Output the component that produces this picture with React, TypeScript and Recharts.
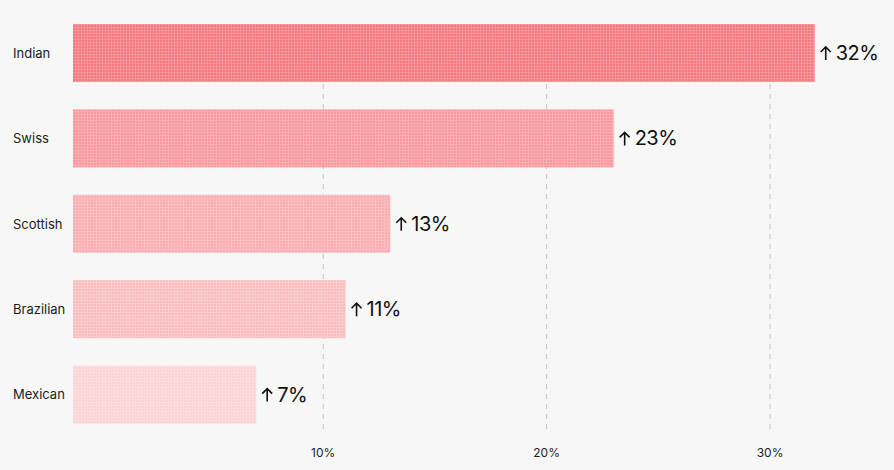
import React from "react";
import { BarChart, Bar, XAxis, YAxis, CartesianGrid, LabelList, Cell } from "recharts";

const cuisines = ["Indian", "Swiss", "Scottish", "Brazilian", "Mexican"];
const growth = [32, 23, 13, 11, 7];
const barColors = ["#f5787f", "#f8979c", "#faadb1", "#fbbcbf", "#fcd3d5"];
const xTicks = [10, 20, 30];

// bars start slightly left of zero, like the original design
const AXIS_MIN = -1.2;
const AXIS_MAX = 35.1;

const data = cuisines.map((name, i) => ({ name, value: growth[i] }));

const FONT = "Inter, 'Liberation Sans', Arial, sans-serif";

function DottedBar(props: any) {
  const { x, y, width, height, fill } = props;
  if (width <= 0) return null;
  return (
    <g>
      <rect x={x} y={y} width={width} height={height} fill={fill} />
      <rect x={x} y={y} width={width} height={height} fill="url(#dotGrid)" />
    </g>
  );
}

function CategoryTick(props: any) {
  const { y, payload } = props;
  return (
    <text x={13} y={y} dominantBaseline="central" fontSize={13} fill="#1c1c1c" fontFamily={FONT}>
      {payload.value}
    </text>
  );
}

function GrowthLabel(props: any) {
  const { x, y, width, height, value } = props;
  const ax = x + width + 11;
  const cy = y + height / 2;
  return (
    <g>
      <path
        d={`M${ax} ${cy + 7} V${cy - 6} M${ax - 5} ${cy - 1} L${ax} ${cy - 6} L${ax + 5} ${cy - 1}`}
        stroke="#111"
        strokeWidth={1.6}
        fill="none"
      />
      <text x={ax + 10} y={cy} dominantBaseline="central" fontSize={20} fill="#111" fontFamily={FONT} letterSpacing={-0.5}>
        {value}%
      </text>
    </g>
  );
}

function GridLine(props: any) {
  const { x1, x2, y1, y2 } = props;
  return <line x1={x1} x2={x2} y1={y1 + 14} y2={y2 - 4} stroke="#c4c4c4" strokeDasharray="5 5" />;
}

export default function App() {
  return (
    <div style={{ position: "absolute", left: 0, top: 0, width: 894, height: 470, background: "#f7f7f7" }}>
      <BarChart
        width={894}
        height={470}
        data={data}
        layout="vertical"
        margin={{ top: 10, right: 10, bottom: 0, left: 0 }}
      >
        <defs>
          <pattern id="dotGrid" width={3} height={3} patternUnits="userSpaceOnUse">
            <rect x={0} y={0} width={3} height={1} fill="#ffffff" fillOpacity={0.22} />
            <rect x={0} y={1} width={1} height={2} fill="#ffffff" fillOpacity={0.22} />
          </pattern>
        </defs>
        <CartesianGrid
          horizontal={false}
          verticalValues={xTicks}
          vertical={(p: any) => <GridLine key={p.key} {...p} />}
        />
        <XAxis
          type="number"
          domain={[AXIS_MIN, AXIS_MAX]}
          allowDataOverflow
          ticks={xTicks}
          tickFormatter={(v) => `${v}%`}
          axisLine={false}
          tickLine={false}
          tickSize={0}
          tickMargin={11}
          height={33}
          tick={{ fontSize: 12, fill: "#1c1c1c", fontFamily: FONT }}
        />
        <YAxis
          type="category"
          dataKey="name"
          width={73}
          axisLine={false}
          tickLine={false}
          tick={<CategoryTick />}
        />
        <Bar
          dataKey={(d: any) => [AXIS_MIN, d.value]}
          barSize={58}
          shape={<DottedBar />}
          isAnimationActive={false}
        >
          {data.map((entry, i) => (
            <Cell key={entry.name} fill={barColors[i]} />
          ))}
          <LabelList dataKey="value" content={<GrowthLabel />} />
        </Bar>
      </BarChart>
    </div>
  );
}
